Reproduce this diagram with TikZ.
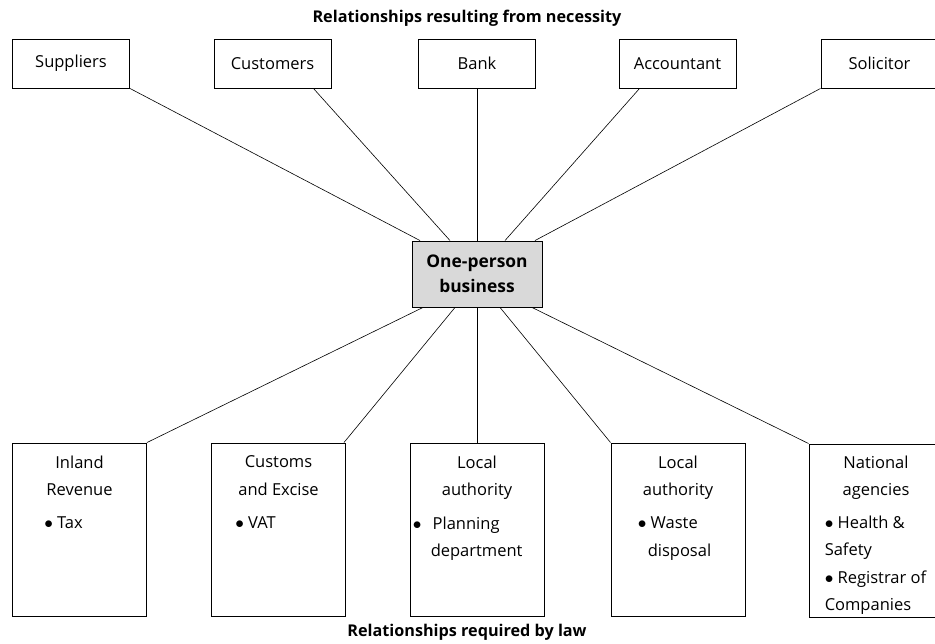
\documentclass[tikz,border=0pt]{standalone}
\usepackage{fontspec}
\setmainfont{Open Sans}
\usetikzlibrary{positioning}

\newcommand{\itembullet}{$\bullet$\ }

\begin{document}
\begin{tikzpicture}[x=1pt, y=-1pt, font=\fontsize{16.5}{27.5}\selectfont]
    \tikzset{
        topbox/.style={draw, line width=0.9pt, minimum width=117pt, minimum height=49pt, inner sep=0pt},
        lawbox/.style={draw, line width=0.9pt, minimum width=134pt, minimum height=173pt, inner sep=0pt},
        head/.style={align=center, anchor=north, inner sep=0pt},
        items/.style={align=left, anchor=north west, inner sep=0pt},
        link/.style={line width=0.6pt},
        title/.style={font=\fontsize{16.2}{18}\selectfont\bfseries}
    }
    \useasboundingbox (0,0) rectangle (935,644);

    % Tiêu đề
    \node[title] (necessity) at (467,18) {Relationships resulting from necessity};
    \node[title] (law) at (467,632) {Relationships required by law};

    % Hộp trung tâm
    \node[draw, line width=0.9pt, fill=gray!30, minimum width=130pt, minimum height=66pt,
          align=center, font=\fontsize{17.4}{25}\selectfont\bfseries] (biz) at (477,274) {One-person\\business};

    % Hàng trên
    \node[topbox] (suppliers) at (71,63.5) {Suppliers};
    \node[topbox] (customers) at (272.5,63.5) {Customers};
    \node[topbox] (bank) at (477,63.5) {Bank};
    \node[topbox] (accountant) at (677.5,63.5) {Accountant};
    \node[topbox] (solicitor) at (879.5,63.5) {Solicitor};

    \draw[link] (suppliers.south east) -- ([xshift=-57pt]biz.north);
    \draw[link] ([xshift=-18pt]customers.south east) -- ([xshift=-27pt]biz.north);
    \draw[link] (bank.south) -- (biz.north);
    \draw[link] ([xshift=21pt]accountant.south west) -- ([xshift=28pt]biz.north);
    \draw[link] (solicitor.south west) -- ([xshift=58pt]biz.north);

    % Hàng dưới
    \node[lawbox] (inland) at (79.5,529.5) {};
    \node[lawbox] (customs) at (278.5,529.5) {};
    \node[lawbox] (planning) at (477,529.5) {};
    \node[lawbox] (waste) at (678,529.5) {};
    \node[lawbox] (national) at (876,530.5) {};

    \node[head] (inlandhead) at ([yshift=-13pt]inland.north) {Inland\\Revenue};
    \node[items] (inlandlist) at ([xshift=32pt, yshift=-74pt]inland.north west) {\itembullet Tax};
    \node[head] (customshead) at ([yshift=-13pt]customs.north) {Customs\\and Excise};
    \node[items] (customslist) at ([xshift=24pt, yshift=-74pt]customs.north west) {\itembullet VAT};
    \node[head] (planninghead) at ([yshift=-13pt]planning.north) {Local\\authority};
    \node[items] (planninglist) at ([xshift=3pt, yshift=-74pt]planning.north west) {\itembullet\hspace*{7pt}Planning\\\hspace*{18pt}department};
    \node[head] (wastehead) at ([yshift=-13pt]waste.north) {Local\\authority};
    \node[items] (wastelist) at ([xshift=27pt, yshift=-74pt]waste.north west) {\itembullet Waste\\\hspace*{10pt}disposal};
    \node[head] (nationalhead) at ([yshift=-12pt]national.north) {National\\agencies};
    \node[items] (nationallist) at ([xshift=16pt, yshift=-72pt]national.north west) {\itembullet Health \&\\Safety\\\itembullet Registrar of\\Companies};

    \draw[link] ([xshift=-54pt]biz.south) -- (inland.north east);
    \draw[link] ([xshift=-22pt]biz.south) -- ([xshift=-2pt]customs.north east);
    \draw[link] (biz.south) -- (planning.north);
    \draw[link] ([xshift=23pt]biz.south) -- (waste.north west);
    \draw[link] ([xshift=55pt]biz.south) -- (national.north west);
\end{tikzpicture}
\end{document}
